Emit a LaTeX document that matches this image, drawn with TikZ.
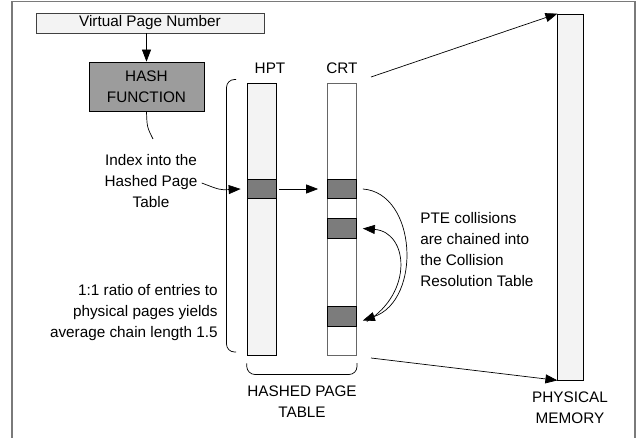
\documentclass[tikz,border=0pt]{standalone}
\usepackage{fontspec}
\setmainfont{Liberation Sans}
\usetikzlibrary{arrows.meta,calc}
\definecolor{lightfill}{HTML}{F3F3F3}
\definecolor{hashfill}{HTML}{9C9C9C}
\definecolor{entryfill}{HTML}{7C7C7C}
\definecolor{framegray}{HTML}{7A7A7A}
\begin{document}
\begin{tikzpicture}[x=1pt,y=-1pt,
  font=\fontsize{15.3}{21}\selectfont,
  line width=0.7pt,
  arr/.style={-{Triangle[length=12pt,width=9pt]}},
  box/.style={draw, inner sep=0pt, align=center},
  column/.style={draw, inner sep=0pt, minimum width=29pt, minimum height=272pt},
  entry/.style={draw, fill=entryfill, inner sep=0pt, minimum width=29pt, minimum height=19.5pt},
  lbl/.style={inner sep=0pt, align=center}]
\useasboundingbox (0,0) rectangle (637,438);
% frame
\draw[framegray, line width=1.6pt] (12,440) -- (12,1.5) -- (635,1.5) -- (635,440);

% top boxes
\node[box, fill=lightfill, draw=black!75, minimum width=228pt, minimum height=20pt] (vpn) at (150,23) {Virtual Page Number};
\node[box, fill=hashfill, minimum width=115pt, minimum height=49pt] (hash) at (146.5,86.5) {HASH\\FUNCTION};
\draw[arr] (hash.north |- vpn.south) -- (hash.north);

% columns
\node[column, fill=lightfill] (hpt) at (261.5,219) {};
\node[column, fill=white, draw=black!60] (crt) at (342,219) {};
\node[entry] (hpte) at (261.5,189) {};
\node[entry] (crt1) at (342,189) {};
\node[entry] (crt2) at (342,228.5) {};
\node[entry] (crt3) at (342,316.5) {};
\node[lbl] (hptl) at (270,68) {HPT};
\node[lbl] (crtl) at (342,68) {CRT};

% physical memory
\node[draw, fill=lightfill, inner sep=0pt, minimum width=25.5pt, minimum height=366pt] (pm) at (570.5,197) {};
\node[lbl] (pml) at (570,408) {PHYSICAL\\MEMORY};

% labels
\node[lbl] (idx) at (151,181) {Index into the\\Hashed Page\\Table};
\node[lbl, align=right, anchor=east] (ratio) at (218,313) {1:1 ratio of entries to\\physical pages yields\\average chain length 1.5};
\node[lbl, align=left, anchor=west] (pte) at (420,250) {PTE collisions\\are chained into\\the Collision\\Resolution Table};
\node[lbl] (hptab) at (302,402) {HASHED PAGE\\TABLE};

% brackets
\draw[rounded corners=8pt] (236,79.5) -- (226.5,79.5) -- (226.5,352) -- (236,352);
\draw[rounded corners=8pt] (hpt.south west) ++(0,8) -- (247,374.5) -- (357,374.5) -- (357,363);

% connectors
\coordinate (k1) at (153,139);
\draw (hash.south) .. controls (147,127) .. (k1);
\draw[arr] ($(idx.east)+(4,2)$) .. controls (220,190) .. ([xshift=-6pt]hpte.west);
\draw[arr, shorten <=3pt, shorten >=9pt] (hpte.east) -- (crt1.west);
\draw[arr] ([xshift=6pt]crt1.east) .. controls (417,193) and (422,300) .. ([xshift=6pt,yshift=-4pt]crt3.east);
\draw[arr] ([xshift=10pt,yshift=-5pt]crt3.east) .. controls (414,292) and (408,232) .. ([xshift=6pt]crt2.east);
\coordinate (t1) at (371,77);
\coordinate (t2) at (371,358);
\draw[arr] (t1) -- (pm.north west);
\draw[arr] (t2) -- (pm.south west);
\end{tikzpicture}
\end{document}
